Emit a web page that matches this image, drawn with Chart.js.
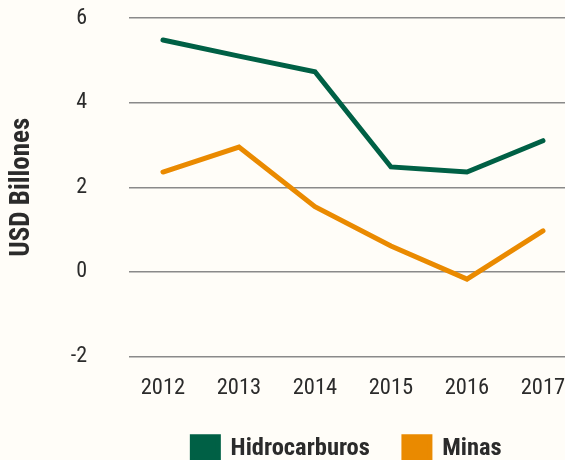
<!DOCTYPE html>
<html>
<head>
<meta charset="utf-8">
<script src="https://cdn.jsdelivr.net/npm/chart.js@4/dist/chart.umd.min.js"></script>
<style>
  html, body { margin: 0; padding: 0; background: #fffdf8; overflow: hidden; width: 565px; height: 460px; }
  canvas { display: block; }
</style>
</head>
<body>
<canvas id="c" width="565" height="471"></canvas>
<script>
const years = [2012, 2013, 2014, 2015, 2016, 2017];
const hidrocarburos = [5.48, 5.1, 4.73, 2.48, 2.36, 3.1];
const minas = [2.36, 2.95, 1.54, 0.61, -0.17, 0.97];
const yTicks = [-2, 0, 2, 4, 6];

const FONT = "'Roboto Condensed', Roboto, 'Liberation Sans', sans-serif";
const toPts = arr => arr.map((v, i) => ({ x: years[i], y: v }));

const bg = {
  id: 'bg',
  beforeDraw(chart) {
    const ctx = chart.ctx;
    ctx.save();
    ctx.fillStyle = '#fffdf8';
    ctx.fillRect(0, 0, chart.width, chart.height);
    ctx.restore();
  }
};

new Chart(document.getElementById('c'), {
  type: 'line',
  data: {
    datasets: [
      { label: 'Hidrocarburos', data: toPts(hidrocarburos), borderColor: '#006045', backgroundColor: '#006045',
        borderWidth: 5, pointRadius: 0, tension: 0, borderCapStyle: 'round', borderJoinStyle: 'miter' },
      { label: 'Minas', data: toPts(minas), borderColor: '#ea8a00', backgroundColor: '#ea8a00',
        borderWidth: 5, pointRadius: 0, tension: 0, borderCapStyle: 'round', borderJoinStyle: 'miter' }
    ]
  },
  options: {
    responsive: false,
    animation: false,
    layout: { padding: { left: 4, top: 18, right: 0, bottom: 0 } },
    plugins: {
      tooltip: { enabled: false },
      legend: {
        position: 'bottom',
        fullSize: false,
        labels: {
          boxWidth: 26, boxHeight: 24, padding: 34,
          color: '#2b2b2b',
          font: { family: FONT, size: 24.5, weight: 'bold' }
        }
      }
    },
    scales: {
      x: {
        type: 'linear',
        min: 2011.553, max: 2017.29,
        border: { display: false },
        grid: { display: false, drawTicks: false },
        afterBuildTicks(scale) { scale.ticks = years.map(v => ({ value: v })); },
        ticks: {
          includeBounds: false,
          maxRotation: 0,
          padding: 18,
          color: '#2b2b2b',
          font: { family: FONT, size: 22.5 },
          callback: v => String(v)
        },
        afterFit(scale) { scale.height = 46; scale.paddingLeft = 0; scale.paddingRight = 0; }
      },
      y: {
        min: -2, max: 6,
        border: { display: false },
        grid: { color: '#8a8a8a', lineWidth: 1.5, drawTicks: false },
        afterBuildTicks(scale) { scale.ticks = yTicks.map(v => ({ value: v })); },
        ticks: {
          padding: 42,
          color: '#2b2b2b',
          font: { family: FONT, size: 22 }
        },
        title: {
          display: true,
          text: 'USD Billones',
          color: '#2b2b2b',
          font: { family: FONT, size: 27, weight: 'bold' },
          padding: { top: 2, bottom: 4 }
        },
        afterFit(scale) { scale.width = 125; scale.paddingTop = 0; scale.paddingBottom = 0; }
      }
    }
  },
  plugins: [bg]
});
</script>
</body>
</html>
